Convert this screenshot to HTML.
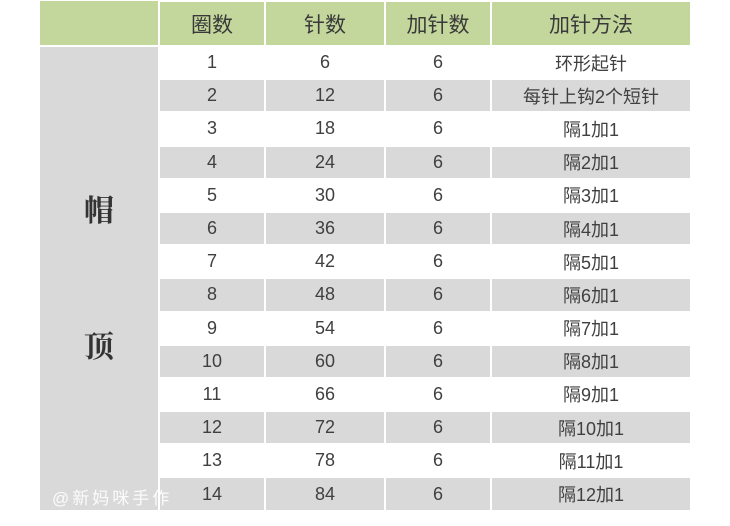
<!DOCTYPE html>
<html><head><meta charset="utf-8"><style>
html,body{margin:0;padding:0;background:#fff;width:730px;height:526px;overflow:hidden}
table{position:absolute;left:38px;top:0;border-collapse:collapse;font-family:"Liberation Sans","Noto Sans CJK SC",sans-serif;color:#404040;font-size:18px}
td,th{text-align:center;padding:0;border:2px solid #fff;font-weight:normal}
th{background:#c3d69b;height:43px;font-size:21px;color:#3a3a3a}
td{height:31.2px}
tr.g td{background:#d9d9d9}
td.side{background:#d9d9d9;font-family:"Noto Serif CJK SC",serif;font-weight:bold;font-size:30px;color:#333;line-height:1}
.wm{position:absolute;left:52px;top:484px;color:#fff;font-size:17px;font-family:"Liberation Sans","Noto Sans CJK SC",sans-serif;letter-spacing:3px;opacity:.9}
</style></head><body>
<table>
<tr><th style="width:118px;border-top:0"></th><th style="width:104px">圈数</th><th style="width:118px">针数</th><th style="width:104px">加针数</th><th style="width:198px">加针方法</th></tr>
<tr><td class="side" rowspan="14"><div style="margin-top:-4px">帽</div><div style="height:106px"></div><div>顶</div></td><td>1</td><td>6</td><td>6</td><td>环形起针</td></tr>
<tr class="g"><td>2</td><td>12</td><td>6</td><td>每针上钩2个短针</td></tr>
<tr><td>3</td><td>18</td><td>6</td><td>隔1加1</td></tr>
<tr class="g"><td>4</td><td>24</td><td>6</td><td>隔2加1</td></tr>
<tr><td>5</td><td>30</td><td>6</td><td>隔3加1</td></tr>
<tr class="g"><td>6</td><td>36</td><td>6</td><td>隔4加1</td></tr>
<tr><td>7</td><td>42</td><td>6</td><td>隔5加1</td></tr>
<tr class="g"><td>8</td><td>48</td><td>6</td><td>隔6加1</td></tr>
<tr><td>9</td><td>54</td><td>6</td><td>隔7加1</td></tr>
<tr class="g"><td>10</td><td>60</td><td>6</td><td>隔8加1</td></tr>
<tr><td>11</td><td>66</td><td>6</td><td>隔9加1</td></tr>
<tr class="g"><td>12</td><td>72</td><td>6</td><td>隔10加1</td></tr>
<tr><td>13</td><td>78</td><td>6</td><td>隔11加1</td></tr>
<tr class="g"><td>14</td><td>84</td><td>6</td><td>隔12加1</td></tr>
</table>
<div class="wm">@新妈咪手作</div>
</body></html>
